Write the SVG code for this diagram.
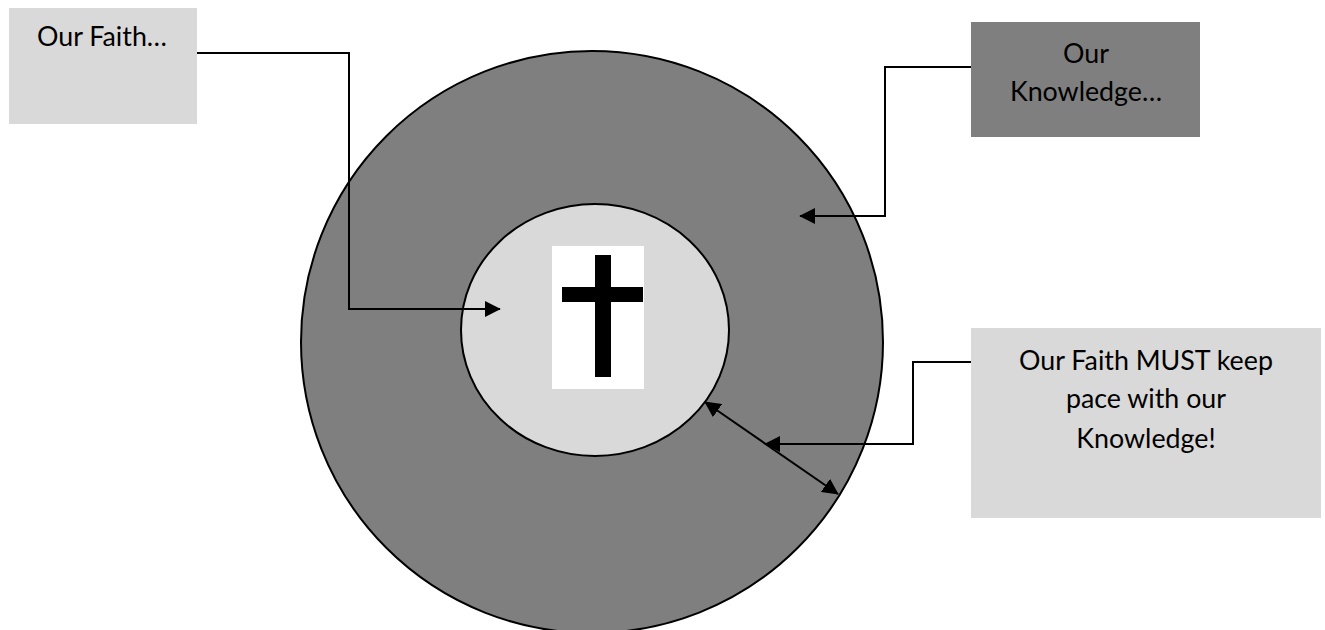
<svg xmlns="http://www.w3.org/2000/svg" width="1325" height="630" viewBox="0 0 1325 630">
<style>
.t{font-family:"Lato","Open Sans","Liberation Sans",sans-serif;font-size:26.8px;fill:#000;text-anchor:middle}
.c{fill:none;stroke:#000;stroke-width:2}
.o{stroke:#000;stroke-width:2}
</style>
<defs>
<marker id="b" viewBox="0 0 10 10" refX="9.5" refY="5" markerWidth="16" markerHeight="16" orient="auto-start-reverse" markerUnits="userSpaceOnUse"><path d="M0 0L10 5L0 10Z" fill="#000"/></marker>
</defs>
<rect width="1325" height="630" fill="#fff"/>
<g id="outer"><circle cx="592" cy="342" r="291" fill="#7f7f7f" class="o"/></g>
<g id="inner"><ellipse cx="595" cy="330" rx="134" ry="126" fill="#d9d9d9" class="o"/></g>
<g id="cross"><rect x="552" y="246" width="92" height="143" fill="#fff"/><rect x="595" y="255" width="16" height="122" fill="#000"/><rect x="562" y="287" width="81" height="15" fill="#000"/></g>
<g id="faith"><rect x="9" y="8" width="188" height="116" fill="#d9d9d9"/><text class="t" x="102" y="46">Our Faith…</text></g>
<g id="knowledge"><rect x="971" y="22" width="229" height="115" fill="#7f7f7f"/><text class="t" x="1086" y="63">Our</text><text class="t" x="1086" y="101">Knowledge…</text></g>
<g id="pace"><rect x="971" y="328" width="350" height="190" fill="#d9d9d9"/><text class="t" x="1146" y="370">Our Faith MUST keep</text><text class="t" x="1146" y="408">pace with our</text><text class="t" x="1146" y="448">Knowledge!</text></g>
<g id="connectors">
<path class="c" d="M197 53H349V309H500" marker-end="url(#b)"/>
<path class="c" d="M971 67H885V216H800" marker-end="url(#b)"/>
<path class="c" d="M971 362H913V444H765" marker-end="url(#b)"/>
<path class="c" d="M705 402L838 494" marker-start="url(#b)" marker-end="url(#b)"/>
</g>
</svg>
